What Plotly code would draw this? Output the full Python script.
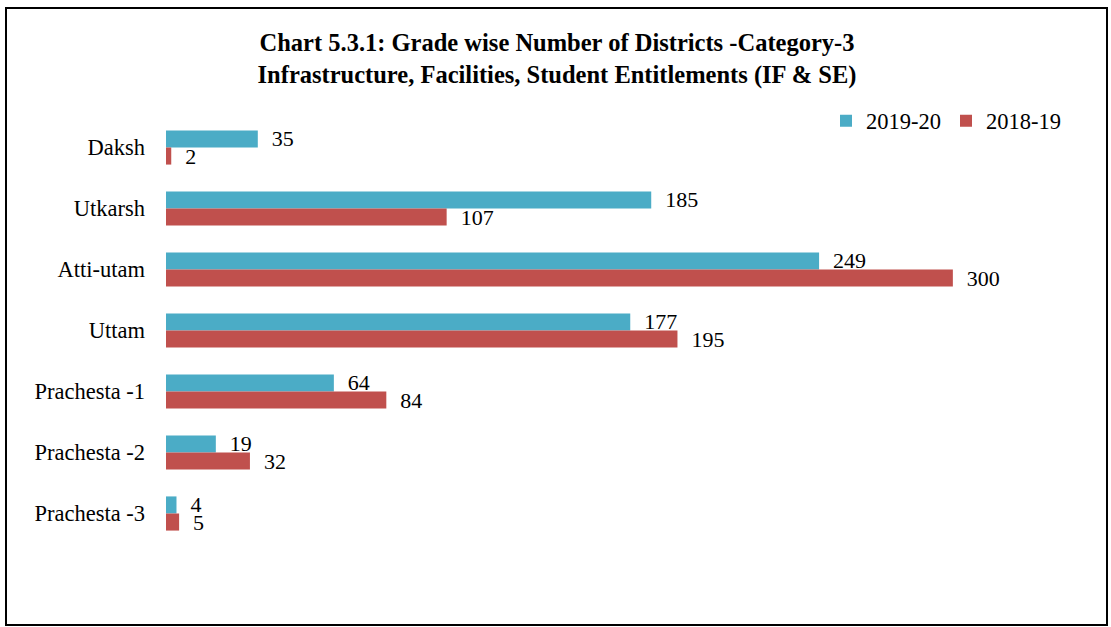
import plotly.graph_objects as go

categories = ["Daksh", "Utkarsh", "Atti-utam", "Uttam", "Prachesta -1", "Prachesta -2", "Prachesta -3"]
values_2019_20 = [35, 185, 249, 177, 64, 19, 4]
values_2018_19 = [2, 107, 300, 195, 84, 32, 5]

W, H = 1111, 627
L, R, T, B = 166, 27, 117, 83
pw, ph = W - L - R, H - T - B

font_family = "Liberation Serif, Times New Roman, serif"

fig = go.Figure()
fig.add_trace(go.Bar(
    name="2019-20", y=categories, x=values_2019_20, orientation="h",
    marker=dict(color="#4BACC6", line=dict(width=0)),
    text=values_2019_20, texttemplate="\u00a0\u00a0%{x}", textposition="outside",
    constraintext="none", cliponaxis=False,
    textfont=dict(size=22, color="black", family=font_family),
))
fig.add_trace(go.Bar(
    name="2018-19", y=categories, x=values_2018_19, orientation="h",
    marker=dict(color="#C0504D", line=dict(width=0)),
    text=values_2018_19, texttemplate="\u00a0\u00a0%{x}", textposition="outside",
    constraintext="none", cliponaxis=False,
    textfont=dict(size=22, color="black", family=font_family),
))

def px_x(p):
    return (p - L) / pw

def px_y(p):
    return (H - B - p) / ph

fig.update_layout(
    width=W, height=H,
    margin=dict(l=L, r=R, t=T, b=B),
    paper_bgcolor="white", plot_bgcolor="white",
    barmode="group", bargap=0.44, bargroupgap=0,
    font=dict(family=font_family, size=22, color="black"),
    title=dict(
        text="<b>Chart 5.3.1: Grade wise Number of Districts -Category-3<br>Infrastructure, Facilities, Student Entitlements (IF & SE)</b>",
        x=557 / W, xanchor="center", y=1 - 51 / H, yanchor="middle", yref="container",
        font=dict(size=24.5, family=font_family, color="black"),
    ),
    showlegend=True,
    legend=dict(
        orientation="h", x=px_x(1066), xanchor="right", y=px_y(121), yanchor="middle",
        font=dict(size=22.5, family=font_family), bgcolor="rgba(0,0,0,0)",
        itemwidth=30, tracegroupgap=0,
    ),
    xaxis=dict(range=[0, 350], visible=False, showgrid=False, zeroline=False),
    yaxis=dict(
        autorange="reversed", showgrid=False, zeroline=False, showline=False,
        ticks="", ticklabelstandoff=20,
        tickfont=dict(size=22.5, family=font_family, color="black"),
    ),
    shapes=[dict(
        type="rect", xref="paper", yref="paper",
        x0=px_x(6), x1=px_x(1107), y0=px_y(625), y1=px_y(8),
        line=dict(color="black", width=2), fillcolor="rgba(0,0,0,0)", layer="above",
    )],
)

fig.write_html(
    "out.html",
    config={"displayModeBar": False},
    post_script="document.body.style.margin='0';document.body.style.overflow='hidden';",
)
